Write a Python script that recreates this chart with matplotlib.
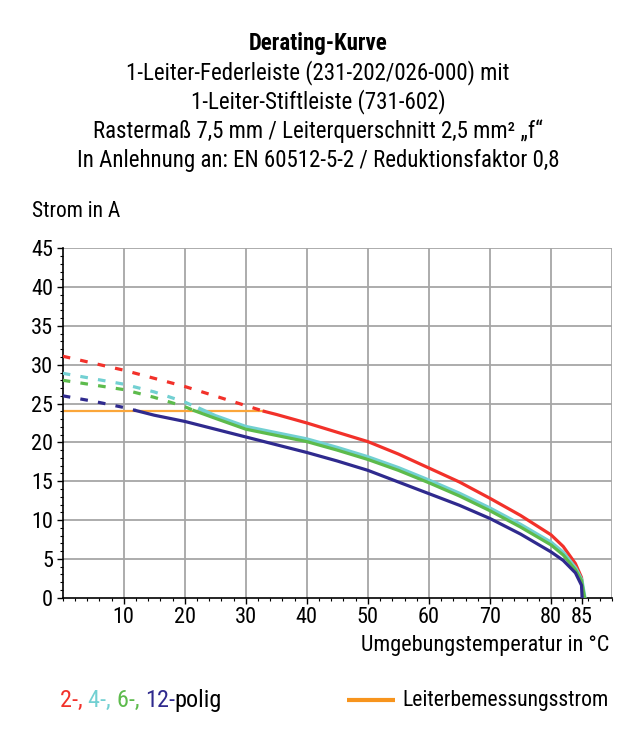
import matplotlib
matplotlib.use("Agg")
import matplotlib.pyplot as plt
import numpy as np
from matplotlib import font_manager

names = {f.name for f in font_manager.fontManager.ttflist}
fams = [f for f in ['Roboto Condensed', 'Liberation Sans Narrow', 'Liberation Sans'] if f in names]
plt.rcParams['font.family'] = fams + ['DejaVu Sans']

# derating data
red_dash_x = [0, 10, 20, 33]
red_dash_y = [31.1, 29.3, 27.2, 24.0]
red_x = [33, 35, 40, 45, 50, 55, 60, 65, 70, 75, 80, 82, 84, 85, 85.3]
red_y = [24.0, 23.6, 22.5, 21.3, 20.1, 18.5, 16.7, 14.9, 12.8, 10.6, 8.1, 6.6, 4.4, 2.6, 0]

cyan_dash_x = [0, 5, 10, 15, 20, 22.5]
cyan_dash_y = [28.9, 28.2, 27.5, 26.5, 25.2, 24.3]
cyan_x = [22.5, 25, 30, 35, 40, 45, 50, 55, 60, 65, 70, 75, 80, 82, 84, 85, 85.5]
cyan_y = [24.3, 23.4, 22.0, 21.2, 20.4, 19.3, 18.1, 16.7, 15.1, 13.4, 11.5, 9.4, 7.1, 5.8, 3.8, 2.3, 0]

green_dash_x = [0, 5, 10, 15, 20, 21.5]
green_dash_y = [28.0, 27.4, 26.8, 25.8, 24.6, 24.1]
green_x = [21.5, 25, 30, 35, 40, 45, 50, 55, 60, 65, 70, 75, 80, 82, 84, 85, 85.5]
green_y = [24.1, 23.1, 21.7, 20.9, 20.1, 19.0, 17.8, 16.4, 14.8, 13.1, 11.2, 9.1, 6.8, 5.5, 3.6, 2.2, 0]

blue_dash_x = [0, 5, 10, 12]
blue_dash_y = [26.0, 25.3, 24.5, 24.1]
blue_x = [12, 15, 20, 25, 30, 35, 40, 45, 50, 55, 60, 65, 70, 75, 80, 82, 84, 85, 85.1]
blue_y = [24.1, 23.5, 22.7, 21.7, 20.7, 19.7, 18.7, 17.6, 16.4, 14.9, 13.4, 11.9, 10.2, 8.2, 5.9, 4.8, 3.2, 1.6, 0]

rated_x = [0, 33]
rated_y = [24, 24]

x_ticks = [10, 20, 30, 40, 50, 60, 70, 80, 85]
y_ticks = [0, 5, 10, 15, 20, 25, 30, 35, 40, 45]

c_red = '#f2312a'
c_cyan = '#72d0d2'
c_green = '#5dbb4c'
c_blue = '#2f2a8e'
c_orange = '#fba63a'

fig = plt.figure(figsize=(6.36, 7.46), dpi=100)
ax = fig.add_axes([0.0986, 0.1988, 0.8637, 0.4684])

for v in np.arange(10, 91, 10):
    ax.axvline(v, color='#a6a6a6', lw=1.3, zorder=0)
for v in np.arange(5, 46, 5):
    ax.axhline(v, color='#a6a6a6', lw=1.3, zorder=0)

ax.plot(rated_x, rated_y, color=c_orange, lw=1.6, zorder=2)

lw = 2.3
dash = (0, (2.4, 3.2))
ax.plot(blue_dash_x, blue_dash_y, color=c_blue, lw=lw, ls=dash, zorder=3)
ax.plot(green_dash_x, green_dash_y, color=c_green, lw=lw, ls=dash, zorder=3)
ax.plot(cyan_dash_x, cyan_dash_y, color=c_cyan, lw=lw, ls=dash, zorder=3)
ax.plot(red_dash_x, red_dash_y, color=c_red, lw=lw, ls=dash, zorder=3)

ax.plot(red_x, red_y, color=c_red, lw=lw, zorder=3)
ax.plot(cyan_x, cyan_y, color=c_cyan, lw=lw + 0.6, zorder=3)
ax.plot(green_x, green_y, color=c_green, lw=lw, zorder=4)
ax.plot(blue_x, blue_y, color=c_blue, lw=lw, zorder=5)

ax.set_xlim(0, 90)
ax.set_ylim(0, 45)
ax.set_xticks(x_ticks)
ax.set_xticks(np.arange(0, 91, 2), minor=True)
ax.set_yticks(y_ticks)
ax.set_yticks(np.arange(0, 46, 1), minor=True)
ax.tick_params(which='major', length=4, width=1, labelsize=16, pad=3)
ax.tick_params(which='minor', length=2.5, width=0.8)
for s in ['top', 'right']:
    ax.spines[s].set_visible(False)
for s in ['left', 'bottom']:
    ax.spines[s].set_linewidth(1.2)

# titles
fig.text(0.5, 0.942, 'Derating-Kurve', ha='center', va='center', fontsize=16.5, fontweight='bold')
lines = ['1-Leiter-Federleiste (231-202/026-000) mit',
         '1-Leiter-Stiftleiste (731-602)',
         'Rastermaß 7,5 mm / Leiterquerschnitt 2,5 mm² „f“',
         'In Anlehnung an: EN 60512-5-2 / Reduktionsfaktor 0,8']
for i, s in enumerate(lines):
    fig.text(0.5, 0.903 - i * 0.0395, s, ha='center', va='center', fontsize=16.5)

fig.text(0.05, 0.716, 'Strom in A', ha='left', va='center', fontsize=15.5)
fig.text(0.958, 0.135, 'Umgebungstemperatur in °C', ha='right', va='center', fontsize=16)

# legend: colored fragments chained one after the other
parts = [('2-, ', c_red), ('4-, ', c_cyan), ('6-, ', c_green), ('12-', c_blue), ('polig', 'black')]
prev = fig.text(0.094, 0.061, parts[0][0], color=parts[0][1], fontsize=17.5,
                ha='left', va='center')
for s, c in parts[1:]:
    prev = ax.annotate(s, xy=(1, 0), xycoords=prev, va='bottom', ha='left',
                       color=c, fontsize=17.5, annotation_clip=False)

legend_ax = fig.add_axes([0.546, 0.052, 0.075, 0.018])
legend_ax.plot([0, 1], [0.5, 0.5], color='#f7941d', lw=3)
legend_ax.set_xlim(0, 1)
legend_ax.set_ylim(0, 1)
legend_ax.axis('off')
fig.text(0.632, 0.061, 'Leiterbemessungsstrom', ha='left', va='center', fontsize=15.6)

fig.savefig('out.png', dpi=100)
